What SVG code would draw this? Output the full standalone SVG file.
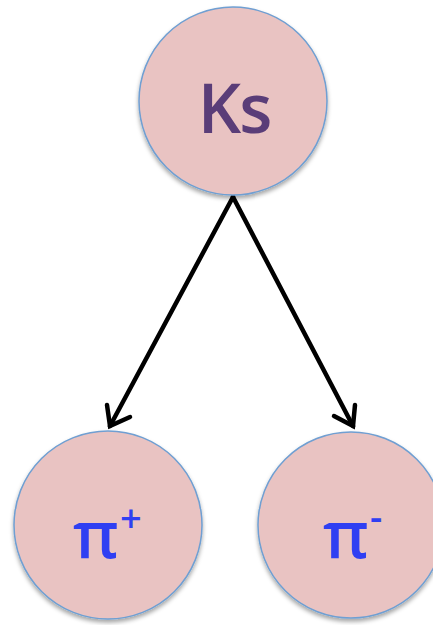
<svg xmlns="http://www.w3.org/2000/svg" width="433" height="625" viewBox="0 0 433 625">
  <style>
    .node { fill: #e9c3c2; stroke: #6f9fd2; stroke-width: 1.5; }
    .edge { fill: none; stroke: #000; stroke-width: 4.5; stroke-linecap: round; }
    .head { fill: none; stroke: #000; stroke-width: 4.5; stroke-linecap: round; stroke-linejoin: miter; }
    .k { font-family: "Open Sans", "Noto Sans", sans-serif; font-weight: 600; font-size: 68px; fill: #5a3d78; letter-spacing: -2px; }
    .pi { font-family: "Open Sans", "Noto Sans", sans-serif; font-weight: 600; font-size: 66px; fill: #2f3ff2; }
    .sup { font-family: "Open Sans", "Noto Sans", sans-serif; font-weight: 600; font-size: 38px; fill: #2f3ff2; }
  </style>
  <defs>
    <filter id="shadow" x="-20%" y="-20%" width="140%" height="140%">
      <feDropShadow dx="0" dy="3" stdDeviation="2" flood-color="#000" flood-opacity="0.35"/>
    </filter>
  </defs>

  <g id="connectors">
    <line class="edge" x1="233" y1="197" x2="110" y2="426"/>
    <polyline class="head" points="107,405 110,426 130,417"/>
    <line class="edge" x1="233" y1="197" x2="353" y2="426"/>
    <polyline class="head" points="334,416 353,426 355,405"/>
  </g>

  <g id="ks">
    <circle class="node" cx="233" cy="101" r="94" filter="url(#shadow)"/>
    <text class="k" x="234" y="133" text-anchor="middle">Ks</text>
  </g>

  <g id="pi-plus">
    <circle class="node" cx="108" cy="525" r="94" filter="url(#shadow)"/>
    <text class="pi" x="73" y="558">π</text>
    <text class="sup" x="120" y="532">+</text>
  </g>

  <g id="pi-minus">
    <circle class="node" cx="351" cy="525" r="93" filter="url(#shadow)"/>
    <text class="pi" x="323" y="558">π</text>
    <text class="sup" x="370" y="530">-</text>
  </g>
</svg>
